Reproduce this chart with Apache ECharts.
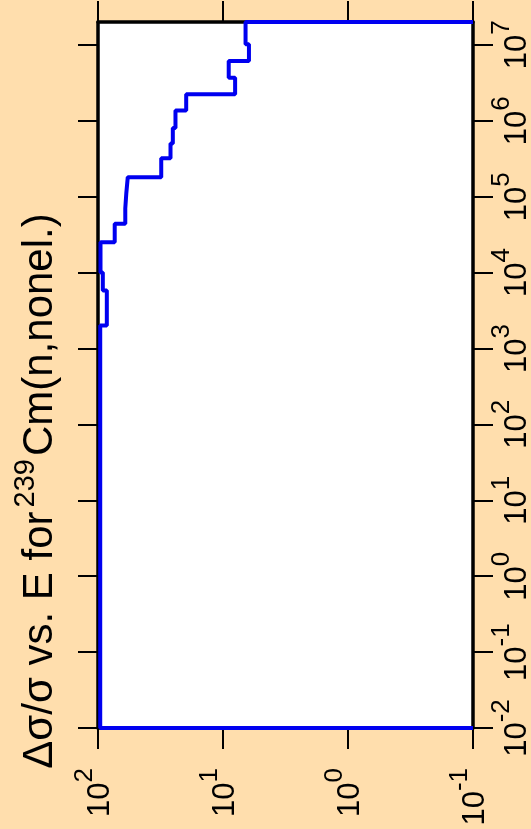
<!DOCTYPE html>
<html>
<head>
<meta charset="utf-8">
<script src="https://cdn.jsdelivr.net/npm/echarts@6/dist/echarts.min.js"></script>
<style>
  html, body { margin: 0; padding: 0; background: #FFDEAD; }
  #chart { width: 531px; height: 829px; }
</style>
</head>
<body>
<div id="chart"></div>
<script>
// energy bin edges (eV) and relative uncertainty per bin (%)
var energyEdges = [0.01, 2.0e3, 5.8e3, 1.0e4, 2.5e4, 4.4e4, 7.0e4, 1.1e5, 1.8e5, 3.2e5,
  5.0e5, 8.0e5, 1.36e6, 2.24e6, 3.7e6, 6.15e6, 1.02e7, 2.0e7];
var relErr = [96, 85, 91.5, 95.5, 73.5, 60.5, 59.4, 57.8, 31.2, 26.3, 25.2, 24.0, 19.7,
  8.0, 9.0, 6.2, 6.6];
var energyTicks = [1e-2, 1e-1, 1e0, 1e1, 1e2, 1e3, 1e4, 1e5, 1e6, 1e7];
var errTicks = [1e-1, 1e0, 1e1, 1e2];

var font = 'Liberation Sans, Arial, sans-serif';

// build the step outline
var pts = [[0.1, energyEdges[0]]];
for (var i = 0; i < relErr.length; i++) {
  pts.push([relErr[i], energyEdges[i]]);
  pts.push([relErr[i], energyEdges[i + 1]]);
}
pts.push([0.1, energyEdges[energyEdges.length - 1]]);

function powLabel(v) {
  var e = Math.round(Math.log(v) / Math.LN10);
  return '{b|10}{s|' + e + '}';
}
// superscript: main token sits at the bottom of a taller line, exponent at the top
var powRich = {
  b: { fontFamily: font, fontSize: 31, lineHeight: 44, color: '#000', verticalAlign: 'bottom' },
  s: { fontFamily: font, fontSize: 26, lineHeight: 26, color: '#000', verticalAlign: 'top' }
};

var chart = echarts.init(document.getElementById('chart'));
var option = {
  animation: false,
  backgroundColor: '#FFDEAD',
  grid: {
    left: 98, right: 58, top: 22, bottom: 101,
    outerBoundsMode: 'none',
    containLabel: false,
    show: true, backgroundColor: '#ffffff', borderWidth: 0
  },
  xAxis: [{
    type: 'log',
    position: 'bottom',
    min: 0.1, max: 100,
    inverse: true,
    axisLine: { show: true, lineStyle: { color: '#000', width: 3.5 } },
    axisTick: { show: true, inside: false, length: 21, lineStyle: { color: '#000', width: 2 }, customValues: errTicks },
    axisLabel: { rotate: 90, margin: 40, padding: [0, 0, 9, 0], formatter: powLabel, rich: powRich, customValues: errTicks },
    splitLine: { show: false }
  }, {
    type: 'log',
    position: 'top',
    min: 0.1, max: 100,
    inverse: true,
    axisLine: { show: true, lineStyle: { color: '#000', width: 3.5 } },
    axisTick: { show: true, inside: false, length: 21, lineStyle: { color: '#000', width: 2 }, customValues: errTicks },
    axisLabel: { show: false },
    splitLine: { show: false }
  }],
  yAxis: [{
    type: 'log',
    position: 'right',
    min: 0.01, max: 2e7,
    axisLine: { show: true, lineStyle: { color: '#000', width: 3.5 } },
    axisTick: { show: true, inside: false, length: 20, lineStyle: { color: '#000', width: 2 }, customValues: energyTicks },
    axisLabel: { rotate: 90, margin: 16, formatter: powLabel, rich: powRich, customValues: energyTicks },
    splitLine: { show: false }
  }, {
    type: 'log',
    position: 'left',
    min: 0.01, max: 2e7,
    axisLine: { show: true, lineStyle: { color: '#000', width: 3.5 } },
    axisTick: { show: true, inside: false, length: 20, lineStyle: { color: '#000', width: 2 }, customValues: energyTicks },
    axisLabel: { show: false },
    splitLine: { show: false }
  }],
  graphic: [{
    type: 'text',
    x: 36, y: 491,
    rotation: Math.PI / 2,
    style: {
      text: '{a|\u0394\u03c3/\u03c3 vs. E for}{s|239}{a|Cm(n,nonel.)}',
      align: 'center',
      verticalAlign: 'middle',
      rich: {
        a: { fontFamily: font, fontSize: 42, lineHeight: 50, fill: '#000', verticalAlign: 'bottom' },
        s: { fontFamily: font, fontSize: 29, lineHeight: 29, fill: '#000', verticalAlign: 'top', padding: [0, 3, 0, 4] }
      }
    }
  }],
  series: [{
    type: 'line',
    xAxisIndex: 0,
    yAxisIndex: 0,
    data: pts,
    showSymbol: false,
    clip: false,
    lineStyle: { color: '#0000F0', width: 4 }
  }]
};
chart.setOption(option);
</script>
</body>
</html>
